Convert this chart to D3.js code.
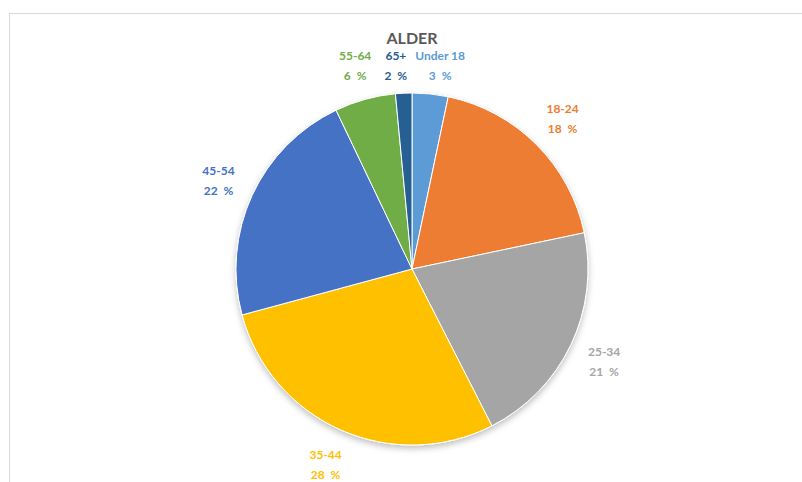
<!DOCTYPE html>
<html>
<head>
<meta charset="utf-8">
<script src="https://cdn.jsdelivr.net/npm/d3@7"></script>
<style>
  body { margin: 0; background: #fff; }
  svg { display: block; font-family: Lato, "Open Sans", sans-serif; }
  .lbl { font-weight: bold; font-size: 12px; }
</style>
</head>
<body>
<div id="chart"></div>
<script>
const categories = ["Under 18", "18-24", "25-34", "35-44", "45-54", "55-64", "65+"]
const shares = [3.3, 18.4, 20.8, 28.3, 22.1, 5.6, 1.5]
const colors = ["#5b9bd5", "#ed7d31", "#a5a5a5", "#ffc000", "#4472c4", "#70ad47", "#255e91"]
const title = "ALDER"

const width = 802
const height = 482
const frame = {x: 9.5, y: 13.5, w: 805, h: 530}
const cx = frame.x + frame.w / 2
const cy = 269
const radius = 176
const titleY = 44

const rows = categories.map((c, i) => ({name: c, value: shares[i], color: colors[i]}))

const svg = d3.select("#chart").append("svg")
    .attr("width", width)
    .attr("height", height)

// soft shadow under the pie
const defs = svg.append("defs")
defs.append("filter")
    .attr("id", "shadow")
    .attr("x", "-20%").attr("y", "-20%")
    .attr("width", "140%").attr("height", "140%")
  .append("feDropShadow")
    .attr("dx", 0).attr("dy", 3)
    .attr("stdDeviation", 3)
    .attr("flood-color", "#000")
    .attr("flood-opacity", 0.25)

svg.append("rect")
    .attr("x", frame.x).attr("y", frame.y)
    .attr("width", frame.w).attr("height", frame.h)
    .attr("fill", "none")
    .attr("stroke", "#d9d9d9")

svg.append("text")
    .attr("x", cx)
    .attr("y", titleY)
    .attr("text-anchor", "middle")
    .attr("font-size", 16)
    .attr("font-weight", "bold")
    .attr("fill", "#595959")
    .text(title)

const pie = d3.pie().value(d => d.value).sort(null)
const arc = d3.arc().innerRadius(0).outerRadius(radius)
const labelArc = d3.arc().innerRadius(radius * 1.21).outerRadius(radius * 1.21)

const arcs = pie(rows)

const g = svg.append("g").attr("transform", `translate(${cx},${cy})`)

g.append("g")
    .attr("filter", "url(#shadow)")
  .selectAll("path")
  .data(arcs)
  .join("path")
    .attr("d", arc)
    .attr("fill", d => d.data.color)
    .attr("stroke", "#fff")
    .attr("stroke-width", 1)

// labels: start at the slice middle, keep them under the title,
// then push overlapping ones apart sideways
const labels = g.append("g").selectAll("g")
  .data(arcs)
  .join("g")
    .attr("class", "lbl")
    .attr("fill", d => d.data.color)

labels.append("text")
    .attr("text-anchor", "middle")
    .attr("y", -5)
    .text(d => d.data.name)
labels.append("text")
    .attr("text-anchor", "middle")
    .attr("y", 15)
    .text(d => Math.round(d.data.value) + "\u00a0\u00a0%")

const minY = titleY + 21 - cy
const boxes = arcs.map((d, i) => {
  const [x, y] = labelArc.centroid(d)
  const w = labels.nodes()[i].getBBox().width
  return {x, y: Math.max(y, minY), w, h: 36}
})

for (let it = 0; it < 50; it++) {
  for (let i = 0; i < boxes.length; i++) {
    for (let j = i + 1; j < boxes.length; j++) {
      const a = boxes[i], b = boxes[j]
      const ox = (a.w + b.w) / 2 + 8 - Math.abs(a.x - b.x)
      const oy = (a.h + b.h) / 2 - Math.abs(a.y - b.y)
      if (ox > 0 && oy > 0) {
        const s = a.x < b.x ? -1 : 1
        a.x += s * ox / 2
        b.x -= s * ox / 2
      }
    }
  }
}

labels.attr("transform", (d, i) => `translate(${boxes[i].x},${boxes[i].y})`)
</script>
</body>
</html>
